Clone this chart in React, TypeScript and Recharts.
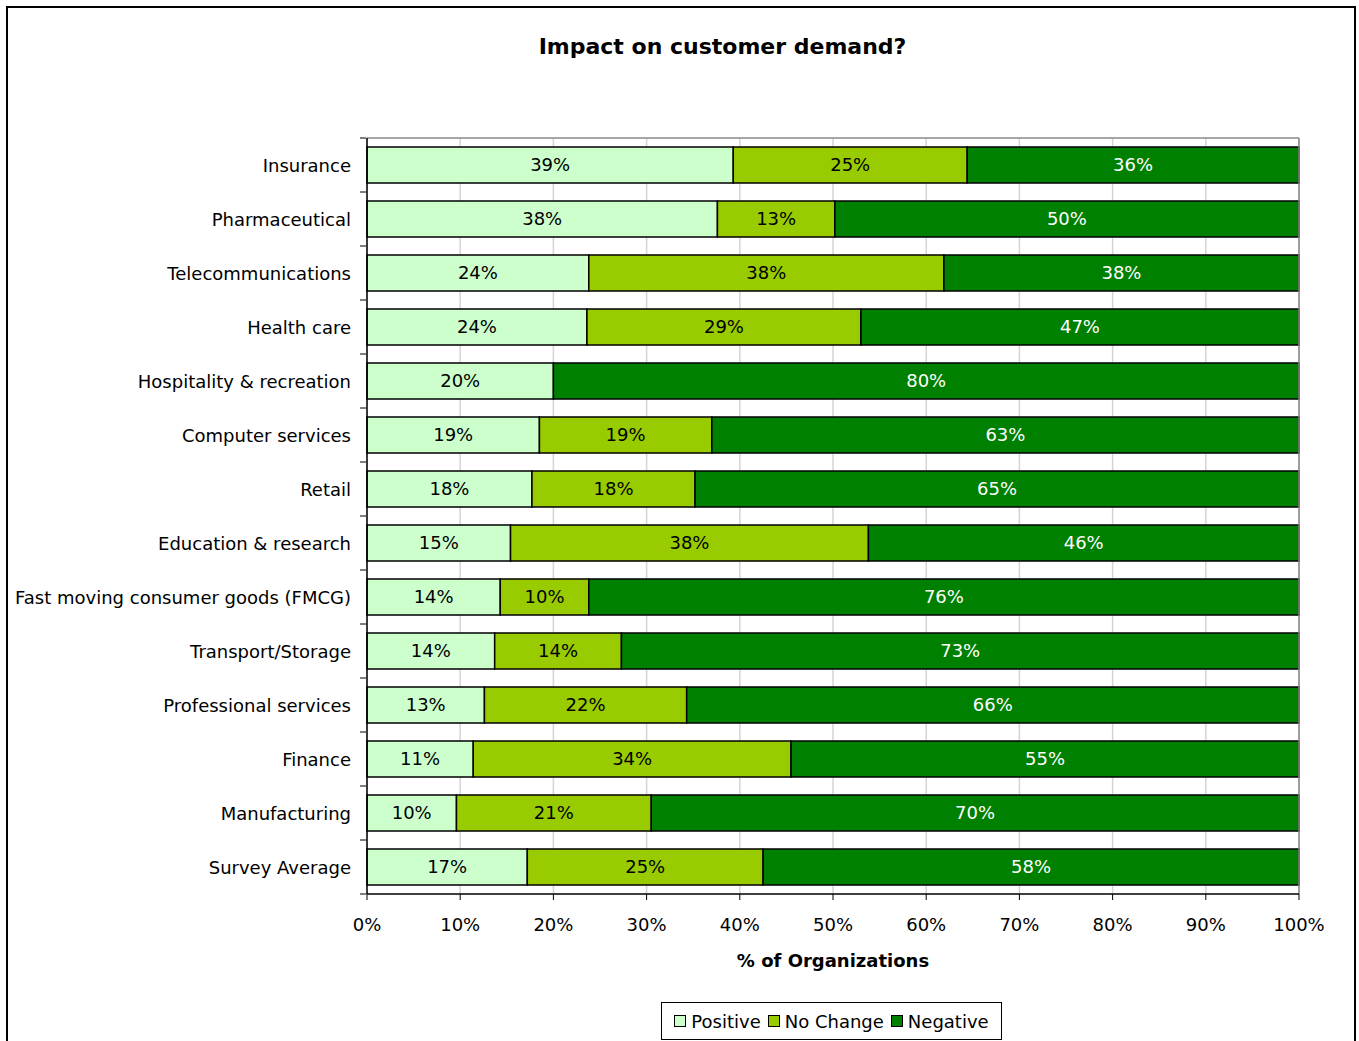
import React from "react";
import {
  BarChart,
  Bar,
  XAxis,
  YAxis,
  CartesianGrid,
  LabelList,
  ReferenceLine,
} from "recharts";

const categories = [
  "Insurance",
  "Pharmaceutical",
  "Telecommunications",
  "Health care",
  "Hospitality & recreation",
  "Computer services",
  "Retail",
  "Education & research",
  "Fast moving consumer goods (FMCG)",
  "Transport/Storage",
  "Professional services",
  "Finance",
  "Manufacturing",
  "Survey Average",
];
const positive = [39.3, 37.6, 23.8, 23.6, 20.0, 18.5, 17.7, 15.4, 14.3, 13.7, 12.6, 11.4, 9.6, 17.2];
const noChange = [25.1, 12.6, 38.1, 29.4, 0, 18.5, 17.5, 38.4, 9.5, 13.6, 21.7, 34.1, 20.9, 25.3];
const negative = [35.6, 49.8, 38.1, 47.0, 80.0, 63.0, 64.8, 46.2, 76.2, 72.7, 65.7, 54.5, 69.5, 57.5];
const xTicks = [0, 10, 20, 30, 40, 50, 60, 70, 80, 90, 100];
const seriesNames = ["Positive", "No Change", "Negative"];
const seriesColors = ["#CCFFCC", "#99CC00", "#008000"];

const FONT = "'DejaVu Sans', sans-serif";
const FS = 18;
const W = 1359;
const H = 1041;
const PLOT_LEFT = 367;
const PLOT_RIGHT = 1299;
const PLOT_TOP = 138;
const PLOT_BOTTOM = 894;
const Y_AXIS_W = 360;
const X_AXIS_H = 40;
const BAND = (PLOT_BOTTOM - PLOT_TOP) / categories.length;

const data = categories.map((name, i) => ({
  name,
  positive: positive[i],
  noChange: noChange[i],
  negative: negative[i],
}));

const fmt = (v: any) => (Number(v) > 0 ? `${Math.round(Number(v))}%` : "");

const YTick = (props: any) => {
  const { x, y, payload, index } = props;
  const ax = x + 7;
  return (
    <g>
      <line x1={ax - 6} x2={ax} y1={y - BAND / 2} y2={y - BAND / 2} stroke="#000" strokeWidth={1} />
      {index === categories.length - 1 && (
        <line x1={ax - 6} x2={ax} y1={y + BAND / 2} y2={y + BAND / 2} stroke="#000" strokeWidth={1} />
      )}
      <text
        x={ax - 15}
        y={y}
        textAnchor="end"
        dominantBaseline="central"
        fontSize={FS}
        fontFamily={FONT}
        fill="#000"
      >
        {payload.value}
      </text>
    </g>
  );
};

const LegendBox = () => (
  <div
    style={{
      position: "absolute",
      left: 661,
      top: 1002,
      width: 341,
      height: 38,
      border: "1px solid #000",
      boxSizing: "border-box",
      display: "flex",
      alignItems: "center",
      justifyContent: "center",
      fontFamily: FONT,
      fontSize: FS,
      color: "#000",
      background: "#fff",
      whiteSpace: "nowrap",
    }}
  >
    {seriesNames.map((label, i) => (
      <span key={label} style={{ display: "flex", alignItems: "center", marginLeft: i === 0 ? 0 : 7 }}>
        <span
          style={{
            display: "inline-block",
            width: 10,
            height: 10,
            border: "1.5px solid #000",
            background: seriesColors[i],
            marginRight: 5,
          }}
        />
        {label}
      </span>
    ))}
  </div>
);

export default function App() {
  return (
    <div style={{ position: "absolute", left: 0, top: 0, width: W, height: H, background: "#fff", overflow: "hidden" }}>
      <div
        style={{
          position: "absolute",
          left: 6,
          top: 6,
          width: 1346,
          height: 1060,
          borderLeft: "2px solid #000",
          borderTop: "2px solid #000",
          borderRight: "2px solid #000",
        }}
      />
      <div
        style={{
          position: "absolute",
          left: 0,
          top: 34,
          width: 1445,
          textAlign: "center",
          fontFamily: FONT,
          fontWeight: "bold",
          fontSize: 22,
          color: "#000",
        }}
      >
        Impact on customer demand?
      </div>
      <div
        style={{
          position: "absolute",
          left: PLOT_LEFT,
          width: PLOT_RIGHT - PLOT_LEFT,
          top: 950,
          textAlign: "center",
          fontFamily: FONT,
          fontWeight: "bold",
          fontSize: FS,
          color: "#000",
        }}
      >
        % of Organizations
      </div>
      <div style={{ position: "absolute", left: 0, top: 0 }}>
        <BarChart
          width={W}
          height={H}
          data={data}
          layout="vertical"
          barCategoryGap="16.5%"
          margin={{ top: PLOT_TOP, right: W - PLOT_RIGHT, bottom: H - PLOT_BOTTOM - X_AXIS_H, left: PLOT_LEFT - Y_AXIS_W }}
        >
          <CartesianGrid horizontal={false} vertical={true} stroke="#d4d4d4" strokeWidth={1.5} />
          <CartesianGrid
            vertical={false}
            horizontal={true}
            horizontalCoordinatesGenerator={(p: any) => [p.offset.top]}
            stroke="#888"
            strokeWidth={1.5}
          />
          <XAxis
            type="number"
            domain={[0, 100]}
            ticks={xTicks}
            tickFormatter={(v: any) => `${v}%`}
            axisLine={{ stroke: "#000", strokeWidth: 1.5 }}
            tickLine={{ stroke: "#000", strokeWidth: 1 }}
            tickSize={6}
            tickMargin={18}
            height={X_AXIS_H}
            tick={{ fontSize: FS, fontFamily: FONT, fill: "#000" }}
          />
          <YAxis
            type="category"
            dataKey="name"
            width={Y_AXIS_W}
            axisLine={{ stroke: "#000", strokeWidth: 1.5 }}
            tickLine={false}
            tick={<YTick />}
            interval={0}
          />
          <ReferenceLine x={100} stroke="#888" strokeWidth={1.5} />
          <Bar dataKey="positive" name={seriesNames[0]} stackId="a" fill={seriesColors[0]} stroke="#000" strokeWidth={1.5} isAnimationActive={false}>
            <LabelList dataKey="positive" position="center" formatter={fmt} fill="#000" fontSize={FS} fontFamily={FONT} />
          </Bar>
          <Bar dataKey="noChange" name={seriesNames[1]} stackId="a" fill={seriesColors[1]} stroke="#000" strokeWidth={1.5} isAnimationActive={false}>
            <LabelList dataKey="noChange" position="center" formatter={fmt} fill="#000" fontSize={FS} fontFamily={FONT} />
          </Bar>
          <Bar dataKey="negative" name={seriesNames[2]} stackId="a" fill={seriesColors[2]} stroke="#000" strokeWidth={1.5} isAnimationActive={false}>
            <LabelList dataKey="negative" position="center" formatter={fmt} fill="#fff" fontSize={FS} fontFamily={FONT} />
          </Bar>
        </BarChart>
      </div>
      <LegendBox />
    </div>
  );
}
